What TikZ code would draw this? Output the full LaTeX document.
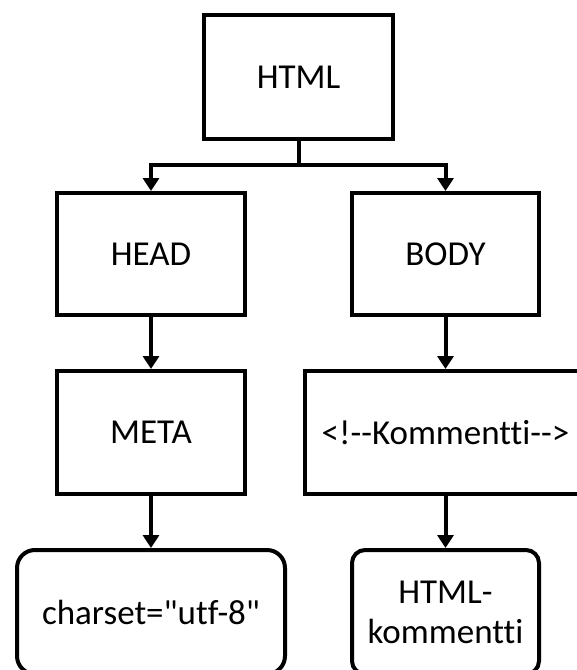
\documentclass[tikz,border=0pt]{standalone}
\usepackage{fontspec}
\setmainfont{Carlito}[Ligatures={TeXOff,CommonOff}]
\usetikzlibrary{arrows.meta}
\tikzset{
  box/.style={draw=black, line width=4pt, fill=white, inner sep=0pt, align=center,
    font=\fontsize{35}{40}\selectfont},
  rbox/.style={box, rounded corners=#1},
  conn/.style={draw=black, line width=4pt, -{Triangle[width=16pt,length=13pt]}}
}
\begin{document}
\begin{tikzpicture}[x=1pt,y=-1pt]
\useasboundingbox (0,0) rectangle (577,670);
\node[box, minimum width=189pt, minimum height=124pt] (html) at (298.5,77) {HTML};
\node[box, minimum width=188pt, minimum height=122pt] (head) at (151,254) {HEAD};
\node[box, minimum width=187pt, minimum height=122pt] (body) at (445.5,254) {BODY};
\node[box, minimum width=188pt, minimum height=123pt] (meta) at (151,432.5) {META};
\node[box, minimum width=281pt, minimum height=123pt] (komm) at (445.5,432.5) {<!--Kommentti-->};
\node[rbox=18pt, minimum width=268pt, minimum height=124pt] (charset) at (151,612) {charset="utf-8"};
\node[rbox=13pt, minimum width=187pt, minimum height=124pt] (hk) at (445.5,612) {HTML-\\kommentti};
\coordinate (split) at (298.5,165);
\draw[conn] (html.south) -- (split) -| (head.north);
\draw[conn] (split) -| (body.north);
\draw[conn] (head.south) -- (meta.north);
\draw[conn] (body.south) -- (komm.north);
\draw[conn] (meta.south) -- (charset.north);
\draw[conn] (komm.south) -- (hk.north);
\end{tikzpicture}
\end{document}
